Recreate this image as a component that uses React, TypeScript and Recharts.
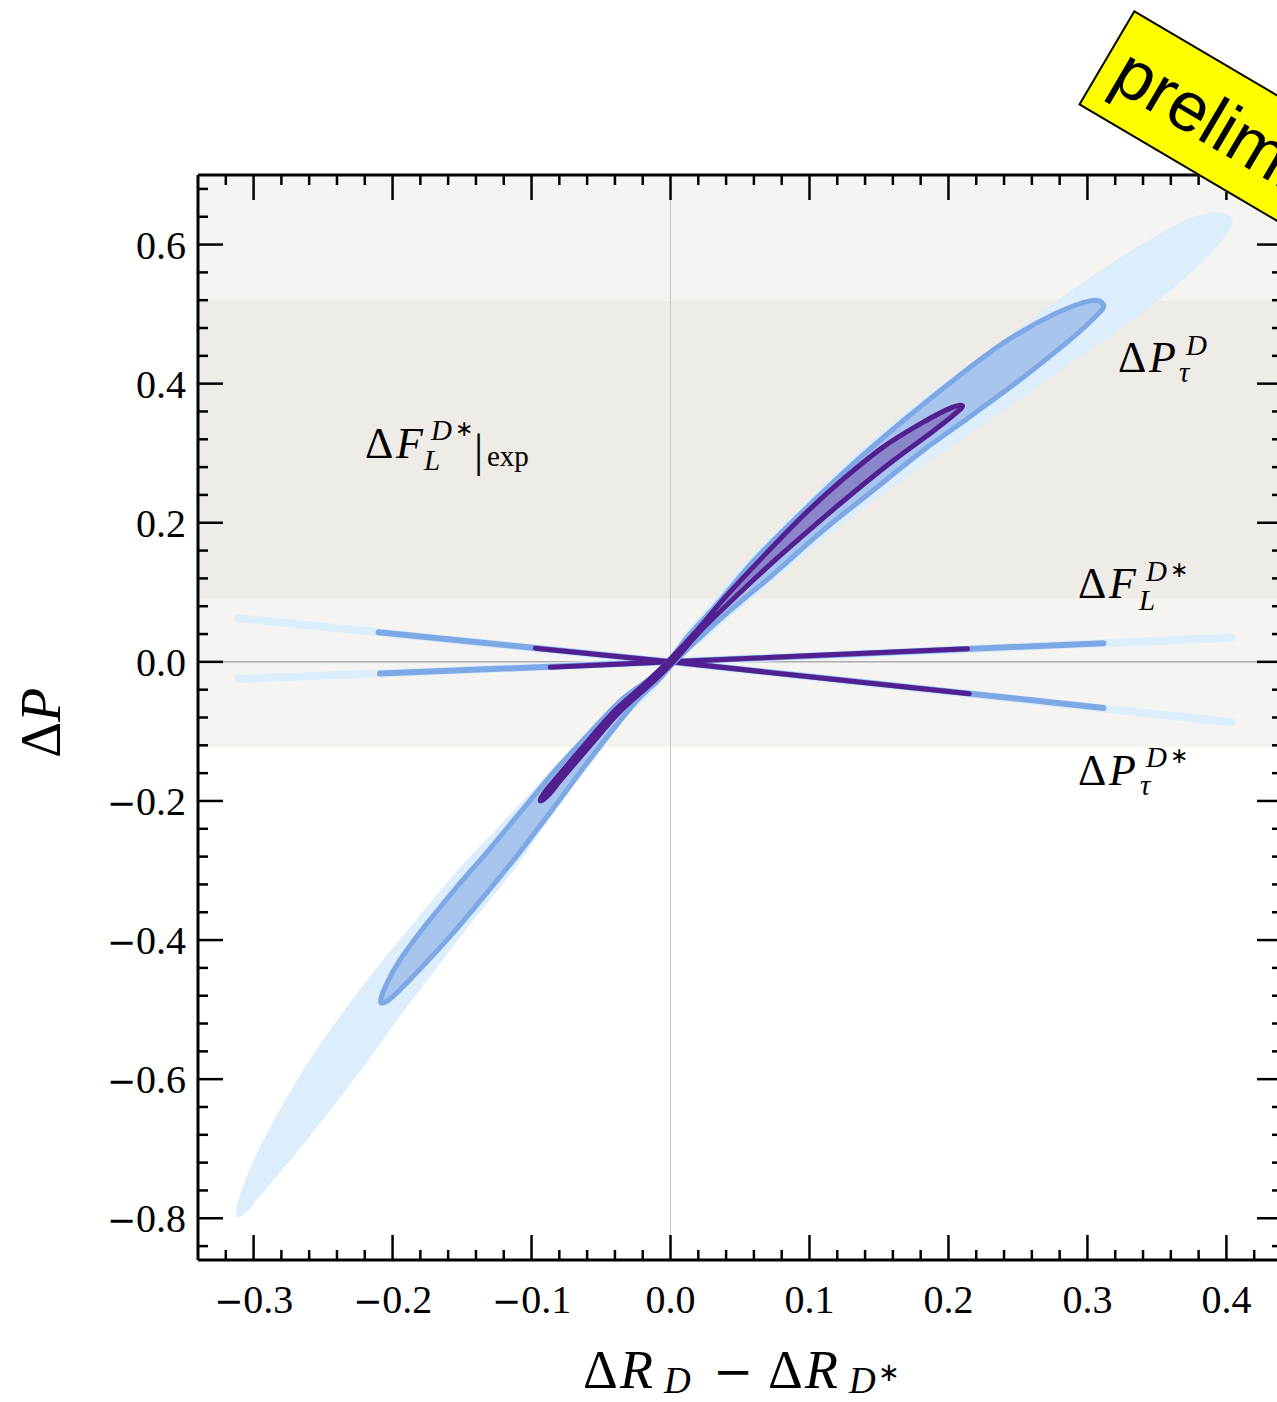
import React from 'react';
import { ComposedChart, XAxis, YAxis, Scatter, Line, ReferenceArea, ReferenceLine } from 'recharts';

// tick positions (minor every 0.02 / 0.04, labels on the majors)
const xTicks = [-0.32, -0.3, -0.28, -0.26, -0.24, -0.22, -0.2, -0.18, -0.16, -0.14, -0.12, -0.1, -0.08, -0.06, -0.04, -0.02, 0, 0.02, 0.04, 0.06, 0.08, 0.1, 0.12, 0.14, 0.16, 0.18, 0.2, 0.22, 0.24, 0.26, 0.28, 0.3, 0.32, 0.34, 0.36, 0.38, 0.4, 0.42];
const yTicks = [-0.84, -0.8, -0.76, -0.72, -0.68, -0.64, -0.6, -0.56, -0.52, -0.48, -0.44, -0.4, -0.36, -0.32, -0.28, -0.24, -0.2, -0.16, -0.12, -0.08, -0.04, 0, 0.04, 0.08, 0.12, 0.16, 0.2, 0.24, 0.28, 0.32, 0.36, 0.4, 0.44, 0.48, 0.52, 0.56, 0.6, 0.64, 0.68];

// experimental F_L band (outer / inner)
const bandOuter = [-0.123, 0.7];
const bandInner = [0.091, 0.519];

// Delta P_tau^D contours (closed outlines)
const pdOuter = [
  { x: 0.0252, y: 0.0331 }, { x: 0.0475, y: 0.0719 }, { x: 0.0784, y: 0.1237 }, { x: 0.1151, y: 0.1842 },
  { x: 0.1532, y: 0.2417 }, { x: 0.1928, y: 0.2978 }, { x: 0.236, y: 0.3568 }, { x: 0.2791, y: 0.4173 },
  { x: 0.3223, y: 0.4777 }, { x: 0.3561, y: 0.5281 }, { x: 0.3835, y: 0.577 }, { x: 0.4, y: 0.6144 },
  { x: 0.4043, y: 0.6345 }, { x: 0.3957, y: 0.646 }, { x: 0.3763, y: 0.64 }, { x: 0.3561, y: 0.62 },
  { x: 0.3201, y: 0.577 }, { x: 0.2842, y: 0.528 }, { x: 0.2597, y: 0.4935 }, { x: 0.2237, y: 0.4403 },
  { x: 0.1878, y: 0.3885 }, { x: 0.1626, y: 0.3496 }, { x: 0.1273, y: 0.2878 }, { x: 0.0921, y: 0.2201 },
  { x: 0.0561, y: 0.1482 }, { x: 0.0273, y: 0.0806 }, { x: 0.0086, y: 0.0374 }, { x: -0.0007, y: 0.0014 },
  { x: -0.0245, y: -0.0388 }, { x: -0.0475, y: -0.0734 }, { x: -0.0719, y: -0.1252 }, { x: -0.0986, y: -0.1827 },
  { x: -0.1252, y: -0.2403 }, { x: -0.1525, y: -0.2978 }, { x: -0.1885, y: -0.3842 }, { x: -0.2137, y: -0.446 },
  { x: -0.241, y: -0.518 }, { x: -0.264, y: -0.5856 }, { x: -0.282, y: -0.6475 }, { x: -0.2986, y: -0.7108 },
  { x: -0.3101, y: -0.7683 }, { x: -0.3122, y: -0.7971 }, { x: -0.305, y: -0.7914 }, { x: -0.2957, y: -0.7683 },
  { x: -0.2712, y: -0.7108 }, { x: -0.246, y: -0.6475 }, { x: -0.2223, y: -0.5856 }, { x: -0.1978, y: -0.518 },
  { x: -0.1705, y: -0.446 }, { x: -0.1468, y: -0.3842 }, { x: -0.1122, y: -0.2978 }, { x: -0.0921, y: -0.2403 },
  { x: -0.0712, y: -0.1827 }, { x: -0.0489, y: -0.1252 }, { x: -0.0288, y: -0.0734 }, { x: -0.0101, y: -0.0388 },
  { x: 0.0007, y: -0.0014 },
];

const pdMid = [
  { x: 0.0201, y: 0.0331 }, { x: 0.0417, y: 0.0719 }, { x: 0.0727, y: 0.1237 }, { x: 0.1086, y: 0.187 },
  { x: 0.1446, y: 0.2446 }, { x: 0.1806, y: 0.3022 }, { x: 0.2165, y: 0.354 }, { x: 0.2525, y: 0.4072 },
  { x: 0.2885, y: 0.4647 }, { x: 0.3079, y: 0.5007 }, { x: 0.3115, y: 0.5137 }, { x: 0.3029, y: 0.5194 },
  { x: 0.277, y: 0.5007 }, { x: 0.241, y: 0.4604 }, { x: 0.205, y: 0.4072 }, { x: 0.1691, y: 0.3496 },
  { x: 0.1331, y: 0.2878 }, { x: 0.0971, y: 0.2201 }, { x: 0.0612, y: 0.1482 }, { x: 0.0324, y: 0.0806 },
  { x: 0.0129, y: 0.0374 }, { x: -0.001, y: 0.002 }, { x: -0.0151, y: -0.0245 }, { x: -0.0345, y: -0.0532 },
  { x: -0.0554, y: -0.0964 }, { x: -0.082, y: -0.154 }, { x: -0.1079, y: -0.2158 }, { x: -0.132, y: -0.2734 },
  { x: -0.155, y: -0.3266 }, { x: -0.1784, y: -0.3842 }, { x: -0.1957, y: -0.4317 }, { x: -0.205, y: -0.4662 },
  { x: -0.2086, y: -0.4892 }, { x: -0.2029, y: -0.4863 }, { x: -0.1921, y: -0.4662 }, { x: -0.1755, y: -0.4317 },
  { x: -0.154, y: -0.3842 }, { x: -0.1299, y: -0.3266 }, { x: -0.1083, y: -0.2734 }, { x: -0.0863, y: -0.2158 },
  { x: -0.0633, y: -0.154 }, { x: -0.041, y: -0.0964 }, { x: -0.023, y: -0.0532 }, { x: -0.0079, y: -0.0245 },
  { x: 0.002, y: -0.002 },
];

const pdInner = [
  { x: 0.0209, y: 0.0432 }, { x: 0.0435, y: 0.0872 }, { x: 0.0732, y: 0.1426 }, { x: 0.1029, y: 0.1948 },
  { x: 0.1319, y: 0.2439 }, { x: 0.1604, y: 0.2895 }, { x: 0.1882, y: 0.3304 }, { x: 0.2049, y: 0.3568 },
  { x: 0.2101, y: 0.3683 }, { x: 0.2023, y: 0.3655 }, { x: 0.183, y: 0.3459 }, { x: 0.1532, y: 0.3091 },
  { x: 0.1242, y: 0.2626 }, { x: 0.0957, y: 0.2109 }, { x: 0.0678, y: 0.1538 }, { x: 0.0399, y: 0.0941 },
  { x: 0.0194, y: 0.046 }, { x: -0.0014, y: 0.0014 }, { x: -0.0194, y: -0.0331 }, { x: -0.0417, y: -0.0734 },
  { x: -0.0612, y: -0.118 }, { x: -0.0827, y: -0.1683 }, { x: -0.0914, y: -0.1899 }, { x: -0.0935, y: -0.2 },
  { x: -0.0871, y: -0.1899 }, { x: -0.0784, y: -0.1683 }, { x: -0.0568, y: -0.118 }, { x: -0.0374, y: -0.0734 },
  { x: -0.0151, y: -0.0331 }, { x: 0.0014, y: -0.0014 },
];

// Delta F_L^{D*} narrow contours (left end, origin, right end)
const flOuter = [{ x: -0.311, y: -0.0245 }, { x: 0, y: 0 }, { x: 0.4036, y: 0.0345 }];
const flMid = [{ x: -0.209, y: -0.0168 }, { x: 0, y: 0 }, { x: 0.3115, y: 0.0269 }];
const flInner = [{ x: -0.0866, y: -0.0077 }, { x: 0, y: 0 }, { x: 0.2137, y: 0.0187 }];

// Delta P_tau^{D*} narrow contours
const ptOuter = [{ x: -0.311, y: 0.0629 }, { x: 0, y: 0 }, { x: 0.4036, y: -0.0868 }];
const ptMid = [{ x: -0.21, y: 0.0427 }, { x: 0, y: 0 }, { x: 0.3115, y: -0.0662 }];
const ptInner = [{ x: -0.0973, y: 0.0197 }, { x: 0, y: 0 }, { x: 0.215, y: -0.046 }];

const SERIF = '"Liberation Serif", "Times New Roman", serif';
const C_LIGHT = '#dceefc';
const C_MID = '#7ea7e6';
const C_MID_FILL = '#a8c5ee';
const C_DARK = '#521f91';
const C_DARK_FILL = '#8a86c9';

const isMajor = (v: number, step: number) => Math.abs(v / step - Math.round(v / step)) < 1e-6;

// smooth closed outline through the points the scatter has already scaled
function closedPath(pts: { x: number; y: number }[]) {
  const n = pts.length;
  if (n < 3) return '';
  let d = `M${pts[0].x},${pts[0].y}`;
  for (let i = 0; i < n; i++) {
    const p0 = pts[(i - 1 + n) % n];
    const p1 = pts[i];
    const p2 = pts[(i + 1) % n];
    const p3 = pts[(i + 2) % n];
    const c1x = p1.x + (p2.x - p0.x) / 6;
    const c1y = p1.y + (p2.y - p0.y) / 6;
    const c2x = p2.x - (p3.x - p1.x) / 6;
    const c2y = p2.y - (p3.y - p1.y) / 6;
    d += `C${c1x},${c1y} ${c2x},${c2y} ${p2.x},${p2.y}`;
  }
  return d + 'Z';
}

const outline = (fill: string, stroke: string, width: number) => (p: any) => (
  <path d={closedPath(p.points || [])} fill={fill} stroke={stroke} strokeWidth={width} strokeLinejoin="round" />
);

const Num = ({ x, y, v, anchor }: any) => (
  <text x={x} y={y} textAnchor={anchor} fontFamily={SERIF} fontSize={40} fill="#000">
    {v < -1e-9 && <tspan fontFamily="DejaVu Serif" fontSize={35}>−</tspan>}
    {Math.abs(v).toFixed(1)}
  </text>
);

const XTick = (props: any) => {
  const { x, y, payload, side } = props;
  const major = isMajor(payload.value, 0.1);
  const len = major ? 25 : 10;
  const dir = side === 'top' ? 1 : -1;
  return (
    <g>
      <line x1={x} y1={y} x2={x} y2={y + dir * len} stroke="#000" strokeWidth={2.5} />
      {side === 'bottom' && major && <Num x={x} y={y + 53} v={payload.value} anchor="middle" />}
    </g>
  );
};

const YTick = (props: any) => {
  const { x, y, payload, side } = props;
  const major = isMajor(payload.value, 0.2);
  const len = major ? 25 : 10;
  const dir = side === 'left' ? 1 : -1;
  return (
    <g>
      <line x1={x} y1={y} x2={x + dir * len} y2={y} stroke="#000" strokeWidth={2.5} />
      {side === 'left' && major && <Num x={x - 12} y={y + 14} v={payload.value} anchor="end" />}
    </g>
  );
};

const frame = { stroke: '#000', strokeWidth: 3 };
const hideShape = () => <g />;

export default function App() {
  return (
    <div style={{ position: 'absolute', left: 0, top: 0, width: 1277, height: 1402, overflow: 'hidden', background: '#fff' }}>
      <ComposedChart width={1290} height={1402} margin={{ top: 174, right: 7, bottom: 12, left: 8 }}>
        <XAxis xAxisId={0} dataKey="x" type="number" domain={[-0.34, 0.44]} allowDataOverflow ticks={xTicks} interval={0}
          height={130} tickSize={0} tickMargin={0} tickLine={false} axisLine={frame} tick={<XTick side="bottom" />} />
        <XAxis xAxisId="top" orientation="top" dataKey="x" type="number" domain={[-0.34, 0.44]} allowDataOverflow ticks={xTicks} interval={0}
          height={1} tickSize={0} tickMargin={0} tickLine={false} axisLine={frame} tick={<XTick side="top" />} />
        <YAxis yAxisId={0} dataKey="y" type="number" domain={[-0.86, 0.7]} allowDataOverflow ticks={yTicks} interval={0}
          width={190} tickSize={0} tickMargin={0} tickLine={false} axisLine={frame} tick={<YTick side="left" />} />
        <YAxis yAxisId="right" orientation="right" dataKey="y" type="number" domain={[-0.86, 0.7]} allowDataOverflow ticks={yTicks} interval={0}
          width={1} tickSize={0} tickMargin={0} tickLine={false} axisLine={frame} tick={<YTick side="right" />} />

        <ReferenceArea y1={bandOuter[0]} y2={bandOuter[1]} fill="#f5f4f1" fillOpacity={1} stroke="none" />
        <ReferenceArea y1={bandInner[0]} y2={bandInner[1]} fill="#efece7" fillOpacity={1} stroke="none" />
        <ReferenceLine x={0} stroke="#c8c8c8" strokeWidth={1} />
        <ReferenceLine y={0} stroke="#8a8a8a" strokeWidth={1} />

        <Scatter data={pdOuter} isAnimationActive={false} shape={hideShape} line={outline(C_LIGHT, 'none', 0)} />
        <Line data={flOuter} dataKey="y" stroke={C_LIGHT} strokeWidth={8} strokeLinecap="round" dot={false} activeDot={false} isAnimationActive={false} />
        <Line data={ptOuter} dataKey="y" stroke={C_LIGHT} strokeWidth={8} strokeLinecap="round" dot={false} activeDot={false} isAnimationActive={false} />

        <Scatter data={pdMid} isAnimationActive={false} shape={hideShape} line={outline(C_MID_FILL, C_MID, 5)} />
        <Line data={flMid} dataKey="y" stroke={C_MID} strokeWidth={6} strokeLinecap="round" dot={false} activeDot={false} isAnimationActive={false} />
        <Line data={ptMid} dataKey="y" stroke={C_MID} strokeWidth={6} strokeLinecap="round" dot={false} activeDot={false} isAnimationActive={false} />

        <Scatter data={pdInner} isAnimationActive={false} shape={hideShape} line={outline(C_DARK_FILL, C_DARK, 5)} />
        <Line data={flInner} dataKey="y" stroke={C_DARK} strokeWidth={5} strokeLinecap="round" dot={false} activeDot={false} isAnimationActive={false} />
        <Line data={ptInner} dataKey="y" stroke={C_DARK} strokeWidth={5} strokeLinecap="round" dot={false} activeDot={false} isAnimationActive={false} />
      </ComposedChart>

      <svg width={1277} height={1402} style={{ position: 'absolute', left: 0, top: 0, pointerEvents: 'none' }} fontFamily={SERIF} fill="#000">
        {/* Delta F_L^{D*}|exp */}
        <text x={365} y={458} fontSize={44}>Δ</text>
        <text x={396} y={458} fontSize={44} fontStyle="italic">F</text>
        <text x={431} y={440} fontSize={29} fontStyle="italic">D</text>
        <text x={455} y={436} fontSize={22}>∗</text>
        <text x={424} y={470} fontSize={29} fontStyle="italic">L</text>
        <text x={474} y={466} fontSize={46}>|</text>
        <text x={487} y={466} fontSize={29}>exp</text>

        {/* Delta P_tau^D */}
        <text x={1118} y={372} fontSize={44}>Δ</text>
        <text x={1149} y={372} fontSize={44} fontStyle="italic">P</text>
        <text x={1186} y={355} fontSize={29} fontStyle="italic">D</text>
        <text x={1179} y={382} fontSize={29} fontStyle="italic">τ</text>

        {/* Delta F_L^{D*} */}
        <text x={1078} y={598} fontSize={44}>Δ</text>
        <text x={1109} y={598} fontSize={44} fontStyle="italic">F</text>
        <text x={1146} y={581} fontSize={29} fontStyle="italic">D</text>
        <text x={1170} y={577} fontSize={22}>∗</text>
        <text x={1139} y={610} fontSize={29} fontStyle="italic">L</text>

        {/* Delta P_tau^{D*} */}
        <text x={1078} y={785} fontSize={44}>Δ</text>
        <text x={1109} y={785} fontSize={44} fontStyle="italic">P</text>
        <text x={1146} y={767} fontSize={29} fontStyle="italic">D</text>
        <text x={1170} y={763} fontSize={22}>∗</text>
        <text x={1140} y={795} fontSize={29} fontStyle="italic">τ</text>

        {/* x axis title */}
        <text x={583} y={1388} fontSize={54}>Δ</text>
        <text x={620} y={1388} fontSize={54} fontStyle="italic">R</text>
        <text x={664} y={1393} fontSize={37} fontStyle="italic">D</text>
        <text x={713} y={1388} fontSize={48} fontFamily="DejaVu Serif">−</text>
        <text x={768} y={1388} fontSize={54}>Δ</text>
        <text x={805} y={1388} fontSize={54} fontStyle="italic">R</text>
        <text x={849} y={1393} fontSize={37} fontStyle="italic">D</text>
        <text x={878} y={1381} fontSize={26}>∗</text>

        {/* y axis title */}
        <text transform="translate(60,758) rotate(-90)" fontSize={56}>
          Δ<tspan fontStyle="italic">P</tspan>
        </text>
      </svg>

      <div style={{
        position: 'absolute', left: 1134, top: 10, width: 620, height: 110, boxSizing: 'border-box',
        background: '#ffff00', border: '2px solid #000', transformOrigin: 'top left', transform: 'rotate(30.5deg)',
      }}>
        <span style={{ position: 'absolute', left: 14, top: 13, fontFamily: '"Liberation Sans", Arial, sans-serif', fontSize: 70, lineHeight: 'normal', color: '#000', whiteSpace: 'nowrap' }}>
          preliminary
        </span>
      </div>
    </div>
  );
}
